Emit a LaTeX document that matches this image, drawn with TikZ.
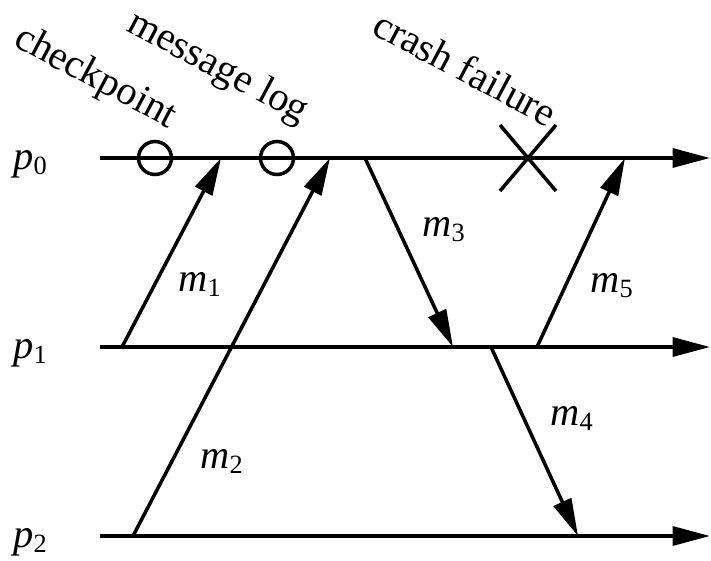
\documentclass[tikz,border=0pt]{standalone}
\usepackage{fontspec}
\setmainfont{Liberation Serif}
\usetikzlibrary{arrows.meta}
\newcommand{\proc}[2]{\textit{#1}\raisebox{-3.4pt}{\fontsize{15}{15}\selectfont #2}}
\begin{document}
\begin{tikzpicture}[x=0.02cm, y=-0.02cm,
  timeline/.style={line width=2pt, -{Triangle[length=0.75cm,width=0.38cm]}},
  msg/.style={line width=2pt, -{Triangle[length=0.75cm,width=0.38cm]}},
  event/.style={draw, circle, line width=2pt, minimum size=0.66cm, inner sep=0pt},
  lbl/.style={font=\fontsize{23}{27}\selectfont, anchor=base west, inner sep=0pt},
  note/.style={lbl, rotate=-28}]
\useasboundingbox (0,0) rectangle (711,561);
% processes
\foreach \i/\y in {0/158,1/347,2/536} {
  \node[lbl] (p\i) at (13,\y+11) {\proc{p}{\i}};
  \coordinate (s\i) at (100,\y);
  \coordinate (e\i) at (710,\y);
  \draw[timeline] (s\i) -- (e\i);
}
% checkpoint, log and crash
\node[event] (ckpt) at (155,158) {};
\node[event] (mlog) at (277,158) {};
\coordinate (crash) at (528,158);
\draw[line width=2pt] ([shift={(-28,-33)}]crash) -- ([shift={(28,33)}]crash);
\draw[line width=2pt] ([shift={(28,-33)}]crash) -- ([shift={(-28,33)}]crash);
\node[note] (ckptlabel) at (12,45) {checkpoint};
\node[note] (mloglabel) at (125,30) {message log};
\node[note] (crashlabel) at (370,33) {crash failure};
% messages
\coordinate (m1s) at (122,347); \coordinate (m1e) at (221,158);
\coordinate (m2s) at (133,536); \coordinate (m2e) at (330,158);
\coordinate (m3s) at (365,158); \coordinate (m3e) at (453,347);
\coordinate (m4s) at (491,347); \coordinate (m4e) at (578,536);
\coordinate (m5s) at (537,347); \coordinate (m5e) at (625,158);
\draw[msg] (m1s) -- (m1e);
\draw[msg] (m2s) -- (m2e);
\draw[msg] (m3s) -- (m3e);
\draw[msg] (m4s) -- (m4e);
\draw[msg] (m5s) -- (m5e);
\node[lbl] (m1) at (178,291) {\proc{m}{1}};
\node[lbl] (m2) at (200,468) {\proc{m}{2}};
\node[lbl] (m3) at (422,236) {\proc{m}{3}};
\node[lbl] (m4) at (550,425) {\proc{m}{4}};
\node[lbl] (m5) at (590,292) {\proc{m}{5}};
\end{tikzpicture}
\end{document}
